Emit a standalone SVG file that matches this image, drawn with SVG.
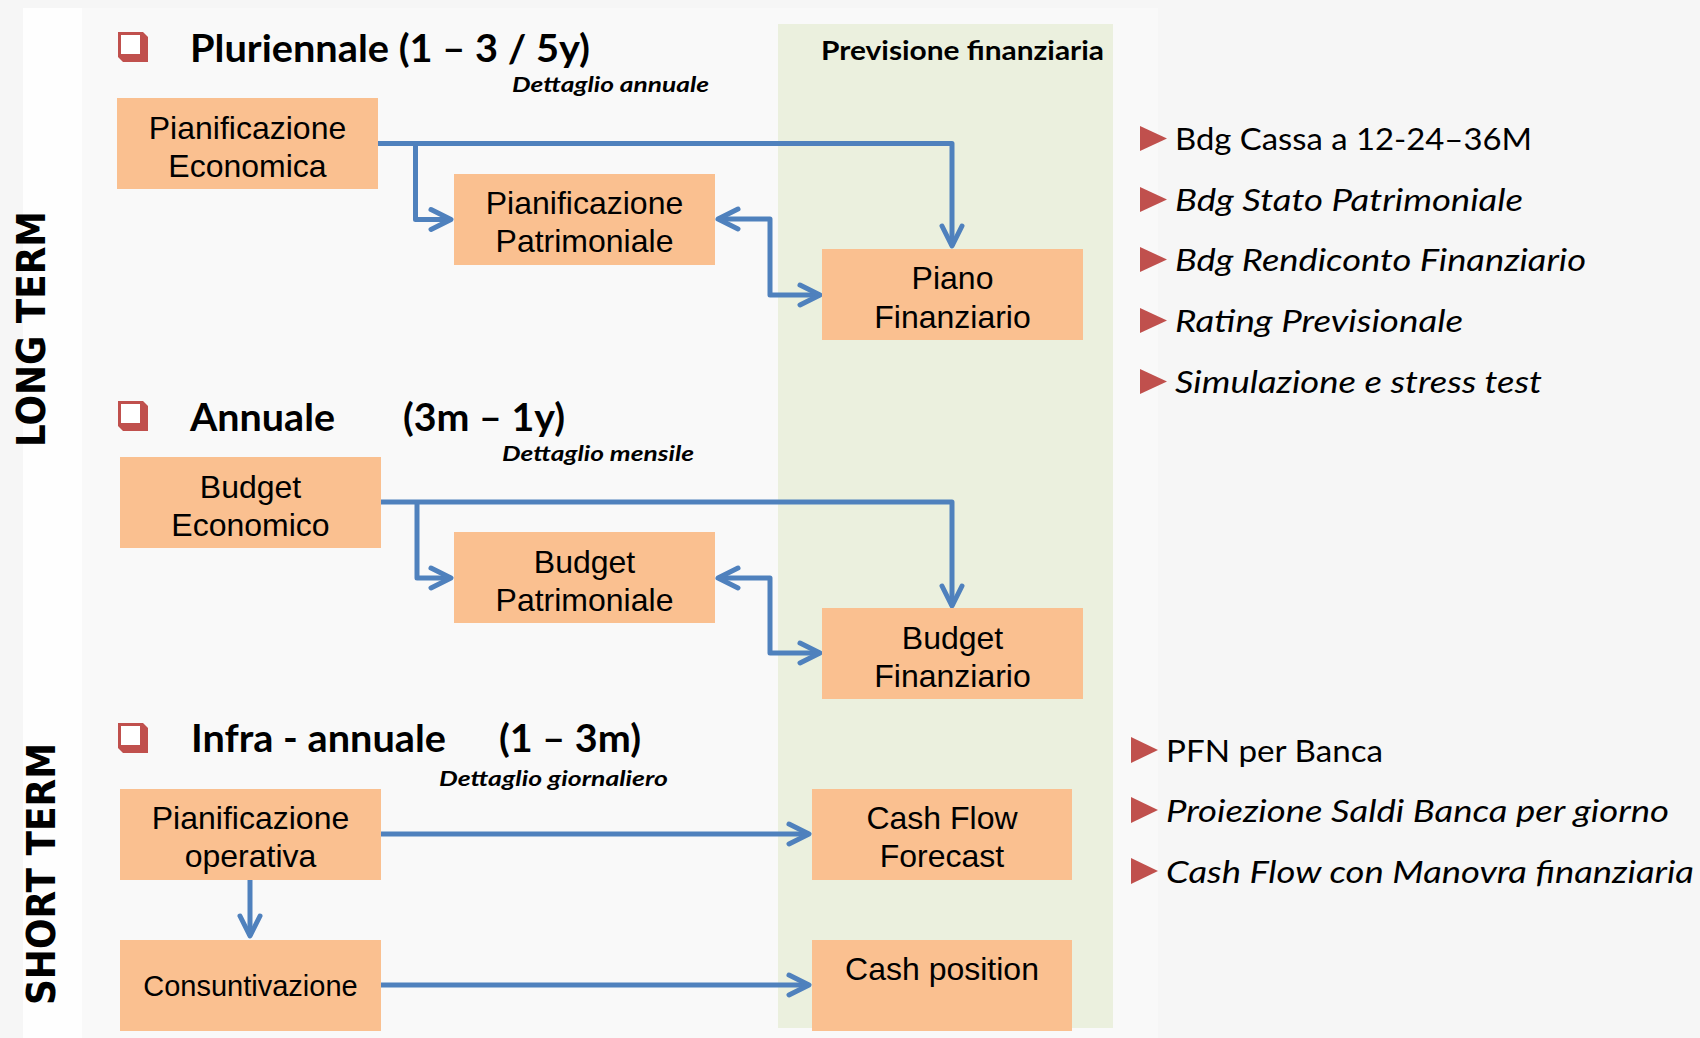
<svg xmlns="http://www.w3.org/2000/svg" width="1700" height="1038" viewBox="0 0 1700 1038">
  <defs>
    <style>
      .box { fill: #fac090; }
      .bt { font-family: "Liberation Sans", Arial, sans-serif; font-size: 32px; fill: #000; text-anchor: middle; }
      .hd { font-family: Lato, "Liberation Sans", sans-serif; font-weight: bold; font-size: 38px; fill: #000; }
      .sub { font-family: Lato, "Liberation Sans", sans-serif; font-weight: bold; font-style: italic; font-size: 21px; fill: #000; }
      .bl { font-family: Lato, "Liberation Sans", sans-serif; font-size: 31px; fill: #000; }
      .it { font-style: italic; }
      .side { font-family: "DejaVu Sans", Verdana, sans-serif; font-weight: bold; font-size: 39px; fill: #000; }
      .tri { fill: #c0504d; }
      .conn { fill: none; stroke: #4f81bd; stroke-width: 5; stroke-linejoin: round; }
    </style>
    <marker id="ah" markerUnits="userSpaceOnUse" markerWidth="40" markerHeight="40" viewBox="-30 -20 40 40" refX="0" refY="0" orient="auto-start-reverse" overflow="visible">
      <path d="M-20,-10 L0,0 L-20,10" fill="none" stroke="#4f81bd" stroke-width="5" stroke-linecap="round" stroke-linejoin="round"/>
    </marker>
    <g id="chk">
      <polygon points="0,0 25,0 30,5 30,30 5,30 0,25" fill="#c0504d"/>
      <rect x="3" y="3" width="19" height="19" fill="#ffffff"/>
    </g>
  </defs>

  <!-- background -->
  <rect x="0" y="0" width="1700" height="1038" fill="#f6f6f6"/>
  <rect x="23" y="8" width="59" height="1030" fill="#fefefe"/>
  <rect x="82" y="8" width="1076" height="1030" fill="#f9f9f9"/>
  <rect x="778" y="24" width="335" height="1004" fill="#ebf0de"/>

  <!-- side labels -->
  <g id="label-long-term">
    <text class="side" transform="translate(45,447) rotate(-90)" textLength="236" lengthAdjust="spacingAndGlyphs">LONG TERM</text>
  </g>
  <g id="label-short-term">
    <text class="side" transform="translate(55,1005) rotate(-90)" textLength="262" lengthAdjust="spacingAndGlyphs">SHORT TERM</text>
  </g>

  <!-- headings -->
  <g id="heading-pluriennale">
    <use href="#chk" x="118" y="32"/>
    <text class="hd" x="190" y="62" textLength="400" lengthAdjust="spacingAndGlyphs">Pluriennale (1 – 3 / 5y)</text>
    <text class="sub" x="512" y="92" textLength="197" lengthAdjust="spacingAndGlyphs">Dettaglio annuale</text>
  </g>
  <g id="heading-annuale">
    <use href="#chk" x="118" y="401"/>
    <text class="hd" x="190" y="431" textLength="145" lengthAdjust="spacingAndGlyphs">Annuale</text>
    <text class="hd" x="403" y="431" textLength="162" lengthAdjust="spacingAndGlyphs">(3m – 1y)</text>
    <text class="sub" x="502" y="461" textLength="192" lengthAdjust="spacingAndGlyphs">Dettaglio mensile</text>
  </g>
  <g id="heading-infra">
    <use href="#chk" x="118" y="723"/>
    <text class="hd" x="191" y="752" textLength="255" lengthAdjust="spacingAndGlyphs">Infra - annuale</text>
    <text class="hd" x="499" y="752" textLength="142" lengthAdjust="spacingAndGlyphs">(1 – 3m)</text>
    <text class="sub" x="439" y="786" textLength="229" lengthAdjust="spacingAndGlyphs">Dettaglio giornaliero</text>
  </g>
  <g id="heading-previsione">
    <text class="hd" x="821" y="60" style="font-size:26px" textLength="283" lengthAdjust="spacingAndGlyphs">Previsione finanziaria</text>
  </g>

  <!-- connectors -->
  <g id="connectors">
    <path class="conn" d="M378,143.5 H952 V246" marker-end="url(#ah)"/>
    <path class="conn" d="M415.5,143.5 V219.5 H451" marker-end="url(#ah)"/>
    <path class="conn" d="M718,219 H770 V295 H820" marker-start="url(#ah)" marker-end="url(#ah)"/>
    <path class="conn" d="M381,502 H952 V606" marker-end="url(#ah)"/>
    <path class="conn" d="M417,502 V578 H451" marker-end="url(#ah)"/>
    <path class="conn" d="M718,578 H770 V653 H820" marker-start="url(#ah)" marker-end="url(#ah)"/>
    <path class="conn" d="M381,834 H809" marker-end="url(#ah)"/>
    <path class="conn" d="M250,880 V936" marker-end="url(#ah)"/>
    <path class="conn" d="M381,985 H809" marker-end="url(#ah)"/>
  </g>

  <!-- nodes -->
  <g id="node-pian-economica">
    <rect class="box" x="117" y="98" width="261" height="91"/>
    <text class="bt" x="247.5" y="139">Pianificazione</text>
    <text class="bt" x="247.5" y="177">Economica</text>
  </g>
  <g id="node-pian-patrimoniale">
    <rect class="box" x="454" y="174" width="261" height="91"/>
    <text class="bt" x="584.5" y="214">Pianificazione</text>
    <text class="bt" x="584.5" y="252">Patrimoniale</text>
  </g>
  <g id="node-piano-finanziario">
    <rect class="box" x="822" y="249" width="261" height="91"/>
    <text class="bt" x="952.5" y="289">Piano</text>
    <text class="bt" x="952.5" y="328">Finanziario</text>
  </g>
  <g id="node-budget-economico">
    <rect class="box" x="120" y="457" width="261" height="91"/>
    <text class="bt" x="250.5" y="498">Budget</text>
    <text class="bt" x="250.5" y="536">Economico</text>
  </g>
  <g id="node-budget-patrimoniale">
    <rect class="box" x="454" y="532" width="261" height="91"/>
    <text class="bt" x="584.5" y="573">Budget</text>
    <text class="bt" x="584.5" y="611">Patrimoniale</text>
  </g>
  <g id="node-budget-finanziario">
    <rect class="box" x="822" y="608" width="261" height="91"/>
    <text class="bt" x="952.5" y="649">Budget</text>
    <text class="bt" x="952.5" y="687">Finanziario</text>
  </g>
  <g id="node-pian-operativa">
    <rect class="box" x="120" y="789" width="261" height="91"/>
    <text class="bt" x="250.5" y="829">Pianificazione</text>
    <text class="bt" x="250.5" y="867">operativa</text>
  </g>
  <g id="node-consuntivazione">
    <rect class="box" x="120" y="940" width="261" height="91"/>
    <text class="bt" x="250.5" y="996" style="font-size:29px">Consuntivazione</text>
  </g>
  <g id="node-cash-flow-forecast">
    <rect class="box" x="812" y="789" width="260" height="91"/>
    <text class="bt" x="942" y="829">Cash Flow</text>
    <text class="bt" x="942" y="867">Forecast</text>
  </g>
  <g id="node-cash-position">
    <rect class="box" x="812" y="940" width="260" height="91"/>
    <text class="bt" x="942" y="980">Cash position</text>
  </g>

  <!-- bullet lists -->
  <g id="bullets-long">
    <polygon class="tri" points="1140,126 1167,138.5 1140,151"/>
    <text class="bl" x="1175" y="150" textLength="357" lengthAdjust="spacingAndGlyphs">Bdg Cassa a 12-24–36M</text>
    <polygon class="tri" points="1140,187 1167,199.5 1140,212"/>
    <text class="bl it" x="1175" y="211" textLength="348" lengthAdjust="spacingAndGlyphs">Bdg Stato Patrimoniale</text>
    <polygon class="tri" points="1140,247 1167,259.5 1140,272"/>
    <text class="bl it" x="1175" y="271" textLength="411" lengthAdjust="spacingAndGlyphs">Bdg Rendiconto Finanziario</text>
    <polygon class="tri" points="1140,308 1167,320.5 1140,333"/>
    <text class="bl it" x="1175" y="332" textLength="288" lengthAdjust="spacingAndGlyphs">Rating Previsionale</text>
    <polygon class="tri" points="1140,369 1167,381.5 1140,394"/>
    <text class="bl it" x="1175" y="393" textLength="367" lengthAdjust="spacingAndGlyphs">Simulazione e stress test</text>
  </g>
  <g id="bullets-short">
    <polygon class="tri" points="1131,737 1158,750 1131,763"/>
    <text class="bl" x="1166" y="762" textLength="217" lengthAdjust="spacingAndGlyphs">PFN per Banca</text>
    <polygon class="tri" points="1131,797 1158,810 1131,823"/>
    <text class="bl it" x="1166" y="822" textLength="503" lengthAdjust="spacingAndGlyphs">Proiezione Saldi Banca per giorno</text>
    <polygon class="tri" points="1131,858 1158,871 1131,884"/>
    <text class="bl it" x="1166" y="883" textLength="528" lengthAdjust="spacingAndGlyphs">Cash Flow con Manovra finanziaria</text>
  </g>
</svg>
